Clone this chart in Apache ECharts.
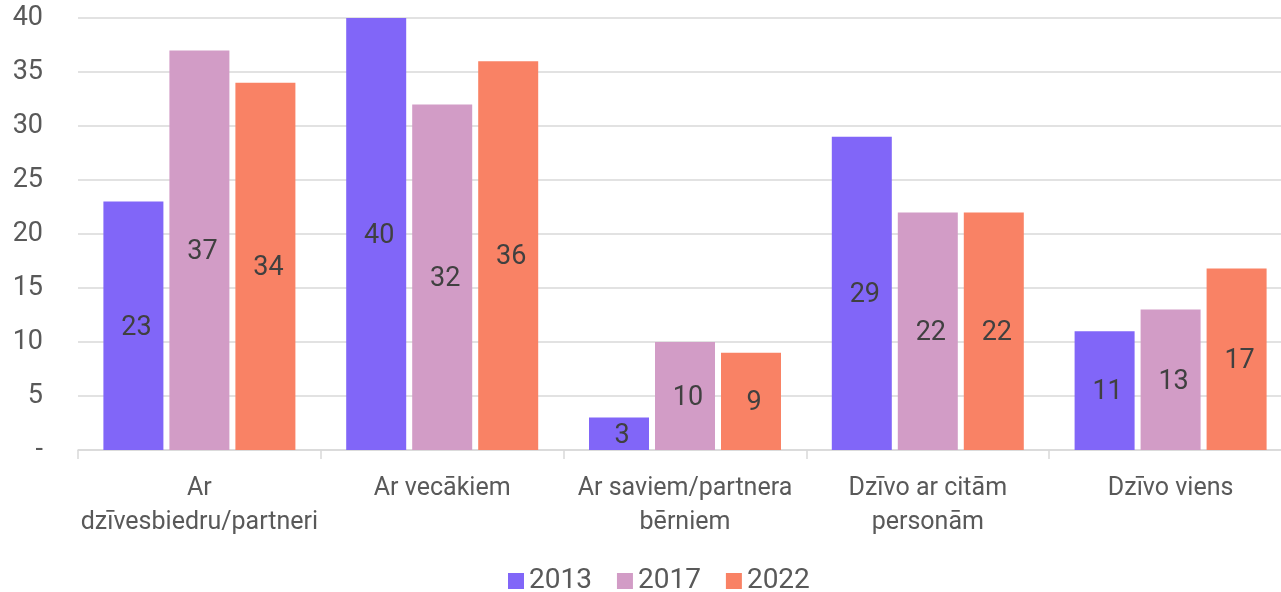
<!DOCTYPE html>
<html><head><meta charset="utf-8">
<script src="https://cdn.jsdelivr.net/npm/echarts@6/dist/echarts.min.js"></script>
<style>html,body{margin:0;padding:0;background:#fff}#c{width:1281px;height:592px}</style>
</head><body><div id="c"></div>
<script>
const categories = ['Ar\ndzīvesbiedru/partneri', 'Ar vecākiem', 'Ar saviem/partnera\nbērniem', 'Dzīvo ar citām\npersonām', 'Dzīvo viens'];
const seriesNames = ['2013', '2017', '2022'];
const values2013 = [23, 40, 3, 29, 11];
const values2017 = [37, 32, 10, 22, 13];
const values2022 = [34, 36, 9, 22, 16.8];
const yTicks = [0, 5, 10, 15, 20, 25, 30, 35, 40];
const colors = ['#8166F8', '#D29CC6', '#F98265'];
const font = 'Roboto, "Liberation Sans", sans-serif';

const chart = echarts.init(document.getElementById('c'));
const mk = (name, data, i) => ({
  name, type: 'bar', data, barWidth: 60, barGap: '10%',
  itemStyle: { color: colors[i] },
  label: { show: true, position: 'inside', offset: [3, 2], color: '#404040', fontSize: 27, fontFamily: font,
    formatter: p => Math.round(p.value) }
});
chart.setOption({
  animation: false,
  color: colors,
  grid: { left: 78, width: 1214, top: 18, height: 432, containLabel: false, outerBoundsMode: 'none' },
  legend: { top: 562, left: 503, itemWidth: 16, itemHeight: 16, itemGap: 25,
    icon: 'rect',
    textStyle: { fontSize: 28, color: '#595959', fontFamily: font } },
  xAxis: { type: 'category', data: categories,
    axisLine: { lineStyle: { color: '#d9d9d9', width: 1.5 } },
    axisTick: { show: true, length: 9, lineStyle: { color: '#d9d9d9', width: 1.5 } },
    axisLabel: { fontSize: 25, color: '#595959', fontFamily: font, margin: 22, lineHeight: 34, interval: 0 } },
  yAxis: { type: 'value', min: 0, max: 40, interval: 5,
    axisLine: { show: false }, axisTick: { show: false },
    splitLine: { lineStyle: { color: '#d9d9d9', width: 1.5 } },
    axisLabel: { fontSize: 27, color: '#595959', fontFamily: font, margin: 35,
      formatter: v => v === 0 ? '-' : (yTicks.includes(v) ? String(v) : '') } },
  series: [mk(seriesNames[0], values2013, 0), mk(seriesNames[1], values2017, 1), mk(seriesNames[2], values2022, 2)]
});
</script></body></html>
